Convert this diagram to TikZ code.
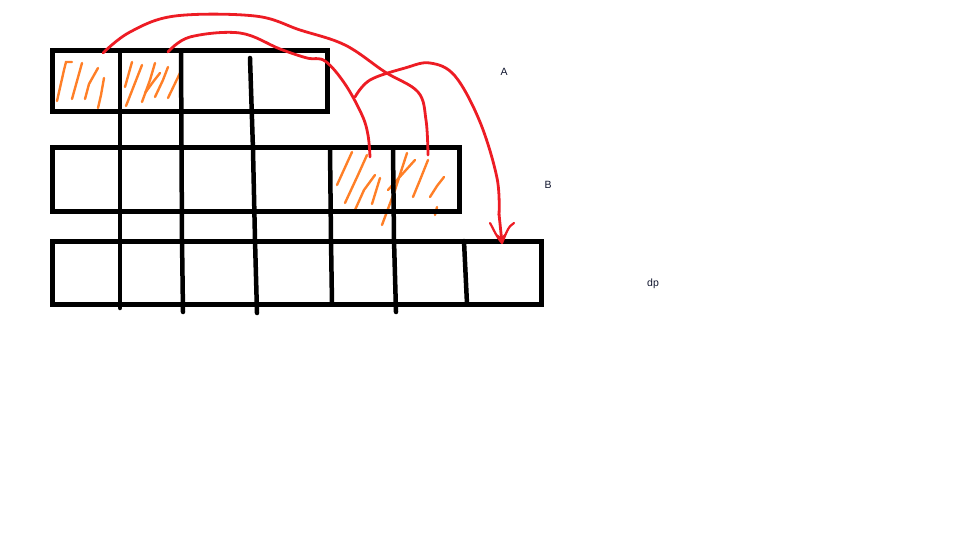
\documentclass[tikz,border=0pt]{standalone}
\usepackage{fontspec}
\setmainfont{Liberation Sans}
\usetikzlibrary{arrows.meta}

\definecolor{paintred}{RGB}{237,28,36}
\definecolor{paintorange}{RGB}{255,127,39}
\definecolor{labelink}{RGB}{15,20,45}

\begin{document}
\begin{tikzpicture}[
    x=1pt, y=-1pt,
    every node/.style={font=\fontsize{10.5}{12}\selectfont, text=labelink},
    cellbox/.style={draw=black, line width=5pt},
    divider/.style={draw=black, line width=4.5pt, line cap=round},
    hatch/.style={draw=paintorange, line width=2.4pt, line cap=round},
    jump/.style={draw=paintred, line width=2.8pt, line cap=round, line join=round},
    >={Stealth[length=11pt, width=13pt, inset=5pt]},
]
\useasboundingbox (0,0) rectangle (960,540);

% === Orange hatching (cells A1, A2, B5, B6) ===
\draw[hatch] (57,101) -- (64,70) -- (66,62) -- (72,62);
\draw[hatch] (72,99) -- (82,63);
\draw[hatch] (85,99) -- (89,84) -- (98,68);
\draw[hatch] (98,108) -- (101,95) -- (104,78);
\draw[hatch] (125,87) -- (132,62);
\draw[hatch] (126,106) -- (142,65);
\draw[hatch] (142,102) -- (150,80) -- (155,63);
\draw[hatch] (145,93) -- (153,82) -- (160,73);
\draw[hatch] (155,97) -- (163,80) -- (168,67);
\draw[hatch] (168,98) -- (180,73);
\draw[hatch] (337,185) -- (352,152);
\draw[hatch] (345,203) -- (358,175) -- (367,155);
\draw[hatch] (355,210) -- (364,190) -- (375,175);
\draw[hatch] (372,204) -- (380,178);
\draw[hatch] (382,225) -- (395,190) -- (407,153);
\draw[hatch] (388,190) -- (415,160);
\draw[hatch] (413,197) -- (420,180) -- (428,160);
\draw[hatch] (430,197) -- (437,186) -- (444,177);
\draw[hatch] (435,215) -- (437,207);

% === Row A ===
\draw[cellbox] (52,51) rectangle (327,112);

% === Row B ===
\draw[cellbox] (52,148) rectangle (459,211);

% === Row dp ===
\draw[cellbox] (52,241) rectangle (541,304);

% === Column dividers ===
\draw[divider] (120,51) -- (120,308);
\draw[divider] (181,51) -- (182,240) -- (183,312);
\draw[divider] (250,58) -- (253,150) -- (255,240) -- (257,313);
\draw[divider] (330,148) -- (331,240) -- (332,304);
\draw[divider] (393,148) -- (394,240) -- (396,312);
\draw[divider] (464,241) -- (467,304);

% === Transitions ===
\coordinate (fromA1) at (103,53);
\coordinate (fromA2) at (168,52);
\coordinate (toB5) at (370,157);
\coordinate (toB6) at (428,155);
\coordinate (fromB) at (355,97);
\coordinate (todp) at (502,243);

\draw[jump] plot[smooth, tension=0.6] coordinates {
    (fromA1) (130,32) (175,16) (255,16) (300,30) (345,45)
    (385,72) (418,92) (426,120) (toB6)};
\draw[jump] plot[smooth, tension=0.6] coordinates {
    (fromA2) (190,37) (240,33) (280,49) (307,58) (325,61)
    (345,84) (362,115) (368,135) (toB5)};
\draw[jump] plot[smooth, tension=0.6] coordinates {
    (fromB) (370,80) (405,68) (430,63) (455,76) (480,122)
    (497,178) (499,215)};
\draw[jump, ->] (499,214) -- (todp);
\draw[jump, line width=2.2pt] (todp) .. controls (496,236) and (494,230) .. (490,223);
\draw[jump, line width=2.2pt] (todp) .. controls (506,234) and (508,226) .. (514,223);

% === Row labels ===
\node (labelA) at (504,72) {A};
\node (labelB) at (548,185) {B};
\node (labeldp) at (653,284) {dp};

\end{tikzpicture}
\end{document}
